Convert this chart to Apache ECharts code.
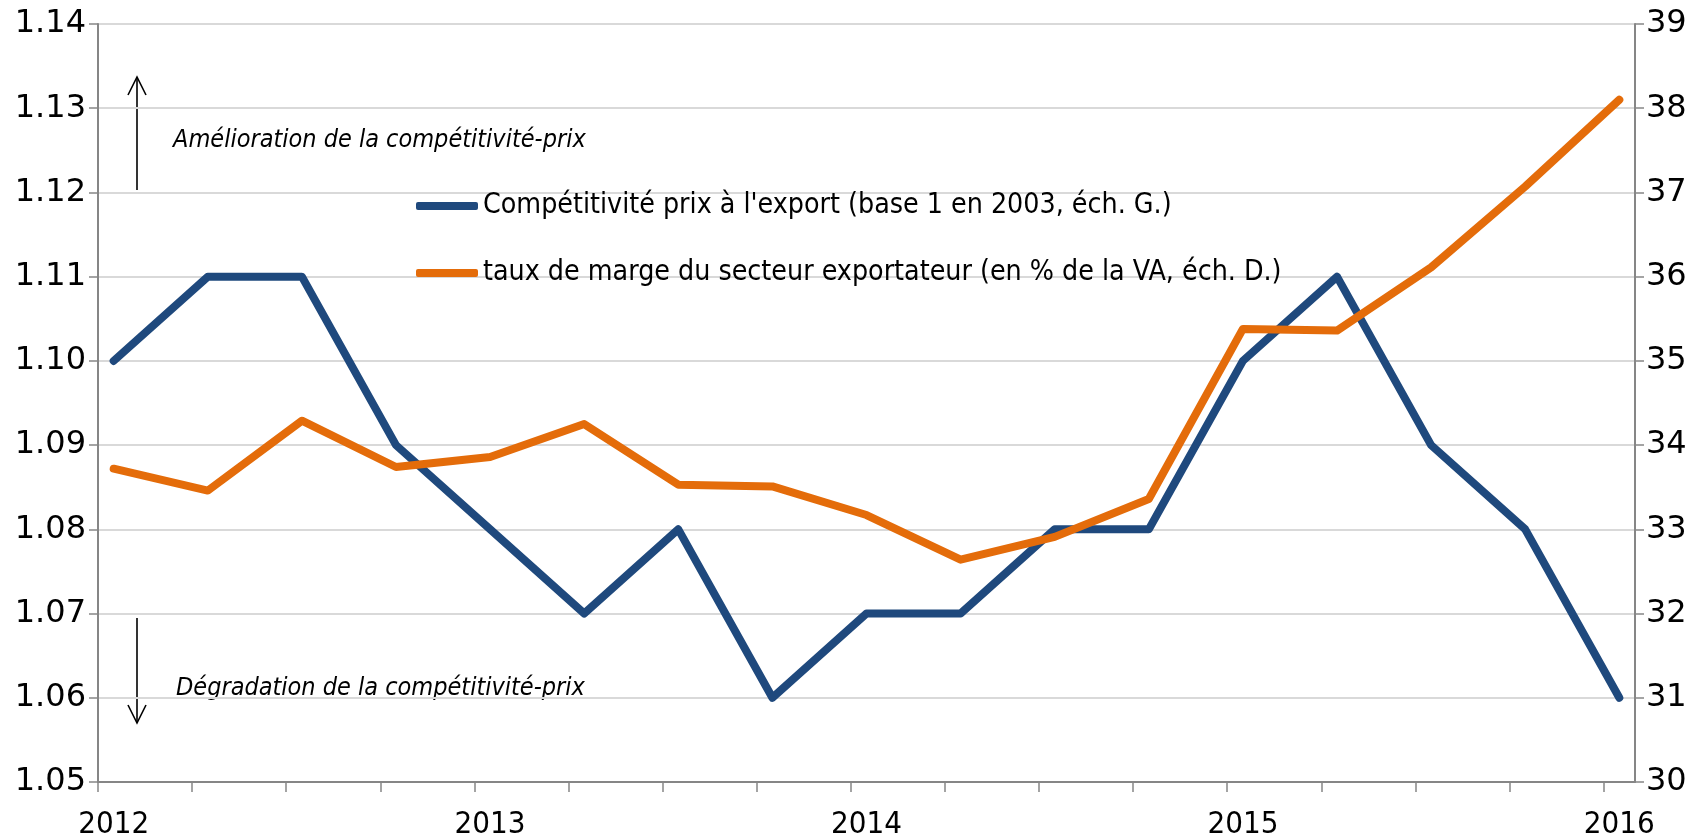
<!DOCTYPE html>
<html>
<head>
<meta charset="utf-8">
<script src="https://cdn.jsdelivr.net/npm/echarts@6/dist/echarts.min.js"></script>
<style>
  html, body { margin: 0; padding: 0; background: #fff; }
  #chart { width: 1701px; height: 836px; }
</style>
</head>
<body>
<div id="chart"></div>
<script>
// trimestres (2012T1 -> 2016T1)
const quarters = ['2012-01', '2012-04', '2012-07', '2012-10',
                  '2013-01', '2013-04', '2013-07', '2013-10',
                  '2014-01', '2014-04', '2014-07', '2014-10',
                  '2015-01', '2015-04', '2015-07', '2015-10',
                  '2016-01']
// compétitivité prix à l'export (base 1 en 2003, éch. G.)
const competitivite = [1.10, 1.11, 1.11, 1.09, 1.08, 1.07, 1.08, 1.06,
                       1.07, 1.07, 1.08, 1.08, 1.10, 1.11, 1.09, 1.08, 1.06]
// taux de marge du secteur exportateur (en % de la VA, éch. D.)
const tauxMarge = [33.72, 33.46, 34.29, 33.74, 33.86, 34.25, 33.53, 33.51,
                   33.17, 32.64, 32.91, 33.36, 35.38, 35.36, 36.11, 37.07, 38.10]
const yearLabels = ['2012', '2013', '2014', '2015', '2016']
const seriesNames = [
  "Compétitivité prix à l'export (base 1 en 2003, éch. G.)",
  'taux de marge du secteur exportateur (en % de la VA, éch. D.)'
]

// axe des x en mois depuis janvier 2012, point au milieu du mois
const firstYear = Number(yearLabels[0])
const toMonth = s => {
  const [y, m] = s.split('-').map(Number)
  return (y - firstYear) * 12 + (m - 1) + 0.5
}
const xs = quarters.map(toMonth)
const lastMonth = Math.ceil(xs[xs.length - 1])
const tickMonths = quarters.map(q => toMonth(q) - 0.5)
const labelMonths = yearLabels.map(y => toMonth(y + '-01'))

const chart = echarts.init(document.getElementById('chart'))

const axisGray = '#868686'
const narrow = "'Liberation Sans Narrow', 'DejaVu Sans Condensed', 'Liberation Sans', sans-serif"
const italicFont = "italic 25px 'Liberation Sans Narrow', 'DejaVu Sans Condensed', sans-serif"

const option = {
  backgroundColor: '#fff',
  animation: false,
  grid: { left: 98, right: 66, top: 24, bottom: 54, outerBoundsMode: 'none' },
  legend: {
    orient: 'vertical',
    left: 416,
    top: 192,
    padding: 0,
    itemWidth: 62,
    itemHeight: 8,
    itemGap: 39,
    icon: 'roundRect',
    textStyle: { fontFamily: narrow, fontSize: 28.3, color: '#000' },
    data: seriesNames
  },
  xAxis: {
    type: 'value',
    min: 0,
    max: lastMonth,
    axisLine: { lineStyle: { color: axisGray, width: 2 } },
    axisTick: { show: true, length: 10, lineStyle: { color: axisGray, width: 1.5 }, customValues: tickMonths },
    axisLabel: {
      customValues: labelMonths,
      formatter: v => String(firstYear + Math.floor(v / 12)),
      fontFamily: narrow,
      fontSize: 31,
      color: '#000',
      margin: 27
    },
    splitLine: { show: false }
  },
  yAxis: [
    {
      type: 'value',
      min: 1.05,
      max: 1.14,
      interval: 0.01,
      axisLine: { show: true, lineStyle: { color: axisGray, width: 2 } },
      axisTick: { show: true, length: 9, lineStyle: { color: axisGray, width: 1.5 } },
      axisLabel: {
        formatter: v => v.toFixed(2),
        fontFamily: 'DejaVu Sans',
        fontSize: 32,
        color: '#000',
        margin: 12
      },
      splitLine: { lineStyle: { color: '#d9d9d9', width: 2 } }
    },
    {
      type: 'value',
      min: 30,
      max: 39,
      interval: 1,
      position: 'right',
      axisLine: { show: true, lineStyle: { color: axisGray, width: 2 } },
      axisTick: { show: true, length: 9, lineStyle: { color: axisGray, width: 1.5 } },
      axisLabel: {
        fontFamily: 'DejaVu Sans',
        fontSize: 32,
        color: '#000',
        margin: 11
      },
      splitLine: { show: false }
    }
  ],
  graphic: [
    // flèche haut + texte
    { type: 'line', shape: { x1: 137, y1: 190, x2: 137, y2: 77 }, style: { stroke: '#000', lineWidth: 1.6 } },
    { type: 'polyline', shape: { points: [[128, 95], [137, 77], [146, 95]] }, style: { stroke: '#000', lineWidth: 1.6, fill: null } },
    {
      type: 'text', left: 173, top: 128,
      style: { text: 'Amélioration de la compétitivité-prix', font: italicFont, fill: '#000' }
    },
    // flèche bas + texte
    { type: 'line', shape: { x1: 137, y1: 618, x2: 137, y2: 723 }, style: { stroke: '#000', lineWidth: 1.6 } },
    { type: 'polyline', shape: { points: [[128, 705], [137, 723], [146, 705]] }, style: { stroke: '#000', lineWidth: 1.6, fill: null } },
    {
      type: 'text', left: 176, top: 676,
      style: { text: 'Dégradation de la compétitivité-prix', font: italicFont, fill: '#000' }
    }
  ],
  series: [
    {
      name: seriesNames[0],
      type: 'line',
      yAxisIndex: 0,
      showSymbol: false,
      color: '#1f497d',
      lineStyle: { width: 8, color: '#1f497d', cap: 'round', join: 'round' },
      data: xs.map((x, i) => [x, competitivite[i]])
    },
    {
      name: seriesNames[1],
      type: 'line',
      yAxisIndex: 1,
      showSymbol: false,
      color: '#e46c0a',
      lineStyle: { width: 8, color: '#e46c0a', cap: 'round', join: 'round' },
      data: xs.map((x, i) => [x, tauxMarge[i]])
    }
  ]
}

chart.setOption(option)
window.addEventListener('resize', () => chart.resize())
</script>
</body>
</html>
